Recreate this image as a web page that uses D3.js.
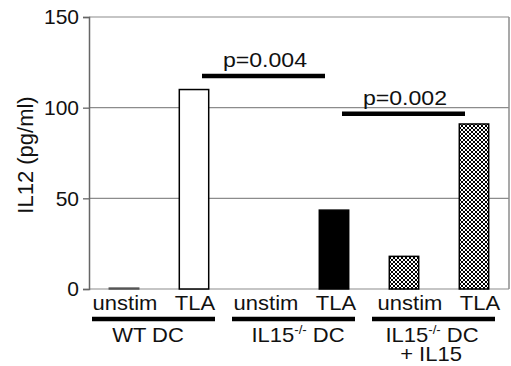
<!DOCTYPE html>
<html>
<head>
<meta charset="utf-8">
<script src="https://cdn.jsdelivr.net/npm/d3@7"></script>
<style>
  body { margin: 0; background: #fff; }
  svg { display: block; font-family: "Liberation Sans", Arial, Helvetica, sans-serif; }
</style>
</head>
<body>
<div id="chart"></div>
<script>
// data
var categories = ["wt_unstim", "wt_tla", "ko_unstim", "ko_tla", "ko15_unstim", "ko15_tla"];
var catLabels = ["unstim", "TLA", "unstim", "TLA", "unstim", "TLA"];
var values = [0.5, 110, 0, 43.5, 18, 91];
var fills = ["white", "white", "white", "black", "check", "check"];
var yTicks = [0, 50, 100, 150];
var groups = [["wt_unstim", "wt_tla"], ["ko_unstim", "ko_tla"], ["ko15_unstim", "ko15_tla"]];
var pBars = [{ from: "wt_tla", to: "ko_tla", y: 117.5, label: "p=0.004" },
             { from: "ko_tla", to: "ko15_tla", y: 96.7, label: "p=0.002" }];

var fullWidth = 511, fullHeight = 366;
var margin = {top: 17, right: 2, bottom: 77, left: 89};
var width = fullWidth - margin.left - margin.right;
var height = fullHeight - margin.top - margin.bottom;
var stretch = 1.1; // the figure's lettering is a bit wider than Arial

var svg = d3.select("#chart").append("svg")
  .attr("width", fullWidth)
  .attr("height", fullHeight);

// checker pattern for the IL15 rescue bars
var defs = svg.append("defs");
var pat = defs.append("pattern")
  .attr("id", "check")
  .attr("width", 4).attr("height", 4)
  .attr("patternUnits", "userSpaceOnUse");
pat.append("rect").attr("width", 4).attr("height", 4).attr("fill", "white");
pat.append("rect").attr("width", 2).attr("height", 2).attr("fill", "black");
pat.append("rect").attr("x", 2).attr("y", 2).attr("width", 2).attr("height", 2).attr("fill", "black");

var g = svg.append("g")
  .attr("transform", "translate(" + margin.left + "," + margin.top + ")");

var xScale = d3.scaleBand().domain(categories).range([0, width]).paddingInner(0.58).paddingOuter(0.29);
var yScale = d3.scaleLinear().domain([0, 150]).range([height, 0]);
function cx(c) { return xScale(c) + xScale.bandwidth() / 2; }

// text helper: wider lettering, positioned by transform
function label(parent, x, y, size) {
  return parent.append("text")
    .attr("transform", "translate(" + x + "," + y + ") scale(" + stretch + ",1)")
    .attr("text-anchor", "middle")
    .attr("font-size", size + "px")
    .attr("fill", "#111");
}

// gridlines
g.selectAll(".grid").data(yTicks).enter().append("line")
  .attr("x1", 0).attr("x2", width)
  .attr("y1", function(d) { return yScale(d); })
  .attr("y2", function(d) { return yScale(d); })
  .attr("stroke", "#8c8c8c").attr("stroke-width", 1.2);

// frame right side
g.append("line").attr("x1", width).attr("x2", width).attr("y1", 0).attr("y2", height)
  .attr("stroke", "#8c8c8c").attr("stroke-width", 1.5);

// y axis
var yAxis = d3.axisLeft(yScale).tickValues(yTicks).tickSize(6).tickPadding(4);
var ya = g.append("g").call(yAxis);
ya.select(".domain").attr("stroke", "#666").attr("stroke-width", 1.5);
ya.selectAll(".tick line").attr("stroke", "#666").attr("stroke-width", 1.3);
ya.selectAll(".tick text").attr("font-size", "21px").attr("fill", "#111")
  .attr("font-family", "Liberation Sans, Arial, sans-serif");

// bars
g.selectAll(".bar").data(categories).enter().filter(function(d, i) { return values[i] > 0; })
  .append("rect")
  .attr("x", function(d) { return xScale(d); })
  .attr("width", xScale.bandwidth())
  .attr("y", function(d) { return yScale(values[categories.indexOf(d)]); })
  .attr("height", function(d) { return height - yScale(values[categories.indexOf(d)]); })
  .attr("fill", function(d) {
    var f = fills[categories.indexOf(d)];
    return f === "check" ? "url(#check)" : f;
  })
  .attr("stroke", function(d) { return values[categories.indexOf(d)] < 1 ? "#555" : "black"; })
  .attr("stroke-width", 1.5);

// category labels (the last pair sits a little to the right in the figure)
var nudge = [1, 1, 2, 2, 6, 6];
categories.forEach(function(c, i) {
  label(g, cx(c) + nudge[i], height + 21, 20).text(catLabels[i]);
});

// group underline bars
g.selectAll(".gline").data(groups).enter().append("line")
  .attr("x1", function(d) { return cx(d[0]) - 32; })
  .attr("x2", function(d) { return cx(d[1]) + 21; })
  .attr("y1", height + 30).attr("y2", height + 30)
  .attr("stroke", "black").attr("stroke-width", 4.5);

// group labels
function mid(gr) { return (cx(gr[0]) + cx(gr[1])) / 2; }
label(g, mid(groups[0]) - 11, height + 53, 20).text("WT DC");
[1, 2].forEach(function(k) {
  var t = label(g, mid(groups[k]) + (k === 1 ? -1 : -7), height + 53, 20);
  t.append("tspan").text("IL15");
  t.append("tspan").attr("font-size", "12px").attr("dy", -8).text("-/-");
  t.append("tspan").attr("dy", 8).text(" DC");
});
label(g, mid(groups[2]) - 8, height + 72, 20).text("+ IL15");

// p-value brackets
g.selectAll(".pline").data(pBars).enter().append("line")
  .attr("x1", function(d) { return cx(d.from) + 8; })
  .attr("x2", function(d) { return cx(d.to) - 9; })
  .attr("y1", function(d) { return yScale(d.y); })
  .attr("y2", function(d) { return yScale(d.y); })
  .attr("stroke", "black").attr("stroke-width", 4.5);
pBars.forEach(function(d) {
  label(g, (cx(d.from) + cx(d.to)) / 2 + 1, yScale(d.y) - 9, 21).text(d.label);
});

// y title
svg.append("text")
  .attr("transform", "translate(33," + 155 + ") rotate(-90)")
  .attr("text-anchor", "middle")
  .attr("font-size", "22px")
  .attr("fill", "#111")
  .text("IL12 (pg/ml)");
</script>
</body>
</html>
